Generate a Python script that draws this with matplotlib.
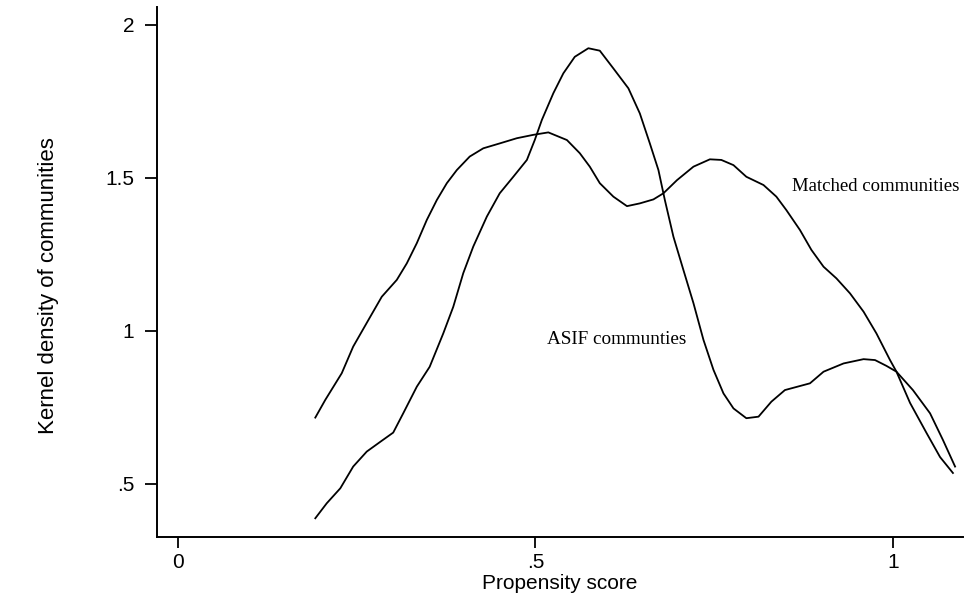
"""
Kernel density of propensity scores, ASIF vs matched communities
"""

import matplotlib
matplotlib.use("Agg")
import matplotlib.pyplot as plt

# propensity score grid and density values
matched_x = [0.192, 0.206, 0.229, 0.245, 0.269, 0.285, 0.306, 0.320, 0.334, 0.348,
             0.362, 0.376, 0.390, 0.408, 0.427, 0.450, 0.474, 0.497, 0.518, 0.544,
             0.562, 0.576, 0.590, 0.609, 0.628, 0.646, 0.665, 0.679, 0.698, 0.721,
             0.744, 0.760, 0.777, 0.795, 0.819, 0.837, 0.851, 0.870, 0.886, 0.903,
             0.921, 0.940, 0.959, 0.977, 0.996, 1.005, 1.024, 1.047, 1.066, 1.084]
matched_y = [0.717, 0.775, 0.862, 0.949, 1.047, 1.112, 1.167, 1.221, 1.287, 1.363,
             1.428, 1.483, 1.526, 1.570, 1.597, 1.613, 1.630, 1.641, 1.649, 1.624,
             1.581, 1.537, 1.483, 1.439, 1.408, 1.417, 1.430, 1.450, 1.493, 1.537,
             1.561, 1.559, 1.542, 1.504, 1.477, 1.439, 1.395, 1.330, 1.265, 1.210,
             1.172, 1.123, 1.063, 0.992, 0.905, 0.867, 0.765, 0.667, 0.588, 0.536]

asif_x = [0.192, 0.208, 0.227, 0.245, 0.264, 0.283, 0.301, 0.315, 0.334, 0.352,
          0.371, 0.385, 0.399, 0.413, 0.432, 0.450, 0.469, 0.488, 0.499, 0.509,
          0.525, 0.539, 0.555, 0.574, 0.590, 0.609, 0.630, 0.646, 0.660, 0.672,
          0.681, 0.693, 0.707, 0.721, 0.735, 0.749, 0.763, 0.777, 0.795, 0.812,
          0.830, 0.849, 0.884, 0.903, 0.931, 0.959, 0.975, 0.991, 1.005, 1.028,
          1.052, 1.070, 1.087]
asif_y = [0.388, 0.437, 0.486, 0.557, 0.606, 0.638, 0.668, 0.731, 0.818, 0.883,
          0.992, 1.079, 1.189, 1.276, 1.374, 1.450, 1.504, 1.559, 1.624, 1.690,
          1.777, 1.842, 1.896, 1.924, 1.916, 1.858, 1.793, 1.711, 1.613, 1.526,
          1.428, 1.308, 1.199, 1.091, 0.971, 0.873, 0.796, 0.747, 0.715, 0.720,
          0.769, 0.807, 0.829, 0.867, 0.894, 0.908, 0.905, 0.886, 0.867, 0.807,
          0.731, 0.644, 0.557]

xticks = [0, 0.5, 1]
xtick_labels = ["0", ".5", "1"]
yticks = [0.5, 1, 1.5, 2]
ytick_labels = [".5", "1", "1.5", "2"]


def main():
    plt.rcParams["font.family"] = ["Liberation Sans", "DejaVu Sans"]
    fig = plt.figure(figsize=(9.64, 5.97), dpi=100)
    ax = fig.add_axes([0.1629, 0.1005, 0.836, 0.8878])

    ax.plot(matched_x, matched_y, color="black", lw=1.3)
    ax.plot(asif_x, asif_y, color="black", lw=1.3)

    # curve labels are set in a serif face in the original
    ax.text(0.859, 1.471, "Matched communities", family="Liberation Serif",
            fontsize=13.5, va="center", ha="left")
    ax.text(0.516, 0.971, "ASIF communties", family="Liberation Serif",
            fontsize=13.8, va="center", ha="left")

    ax.set_xlim(-0.0294, 1.098)
    ax.set_ylim(0.3268, 2.0588)
    ax.spines["top"].set_visible(False)
    ax.spines["right"].set_visible(False)
    ax.spines["left"].set_linewidth(1.4)
    ax.spines["bottom"].set_linewidth(1.4)

    ax.set_xticks(xticks)
    ax.set_xticklabels(xtick_labels)
    ax.set_yticks(yticks)
    ax.set_yticklabels(ytick_labels)
    ax.tick_params(axis="x", length=8, width=1.3, pad=3.5, labelsize=15)
    ax.tick_params(axis="y", length=8.5, width=1.3, pad=8, labelsize=15)

    ax.set_xlabel("Propensity score", fontsize=15, labelpad=1.5)
    ax.set_ylabel("Kernel density of communities", fontsize=16)
    ax.yaxis.set_label_coords(-0.122, 0.475)

    fig.savefig("out.png", dpi=100)


if __name__ == "__main__":
    main()
